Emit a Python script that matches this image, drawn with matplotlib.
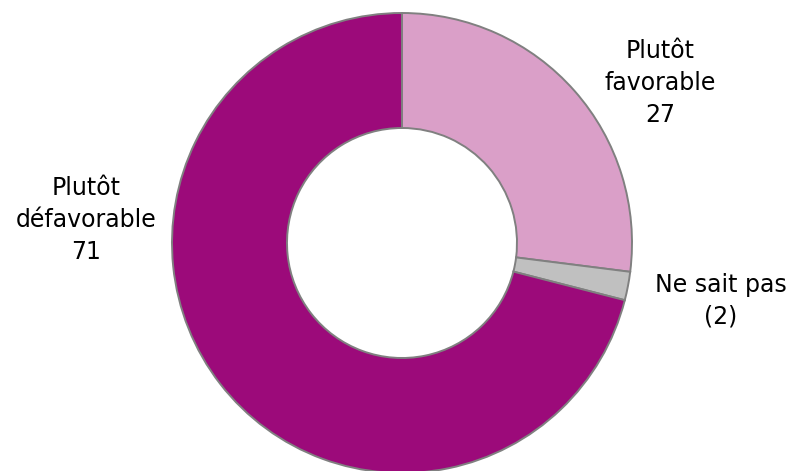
import matplotlib
matplotlib.use("Agg")
import matplotlib.pyplot as plt

labels = ["Plutôt\nfavorable\n27", "Ne sait pas\n(2)", "Plutôt\ndéfavorable\n71"]
values = [27, 2, 71]
colors = ["#DA9FC8", "#C0C0C0", "#9C0A7A"]

W, H = 798, 471
cx, cy, R = 402, 243, 230

fig = plt.figure(figsize=(W / 100, H / 100), dpi=100)
ax = fig.add_axes([0, 0, 1, 1])
ax.axis("off")

ax.pie(values, colors=colors, startangle=90, counterclock=False, radius=1,
       wedgeprops=dict(width=0.5, edgecolor="#808080", linewidth=1.4))
ax.set_xlim(-cx / R, (W - cx) / R)
ax.set_ylim(-(H - cy) / R, cy / R)
ax.set_aspect("auto")

def px(x, y):
    return (x - cx) / R, (cy - y) / R

label_pos = [(660, 83), (721, 301), (86, 220)]
for lab, (x, y) in zip(labels, label_pos):
    dx, dy = px(x, y)
    ax.text(dx, dy, lab, ha="center", va="center", fontsize=17,
            family="DejaVu Sans", color="#000000", linespacing=1.4)

fig.savefig("out.png", dpi=100)
